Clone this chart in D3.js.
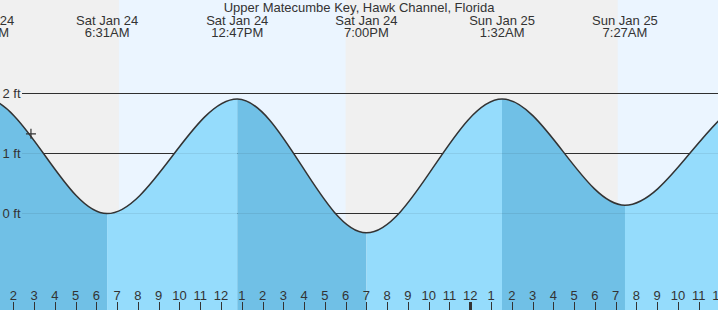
<!DOCTYPE html>
<html>
<head>
<meta charset="utf-8">
<script src="https://cdn.jsdelivr.net/npm/d3@7"></script>
<style>
html,body{margin:0;padding:0;background:#f0f0f0;}
svg{display:block;font-family:"Liberation Sans",Arial,sans-serif;}
</style>
</head>
<body>
<svg id="chart" width="718" height="310"></svg>
<script>
const title = "Upper Matecumbe Key, Hawk Channel, Florida";
// tide extremes (first and last are just off the visible window)
const tideTimes = ["2026-01-23T18:20","2026-01-24T00:33","2026-01-24T06:31","2026-01-24T12:47","2026-01-24T19:00","2026-01-25T01:32","2026-01-25T07:27","2026-01-25T13:48","2026-01-25T19:55"];
const tideHeights = [-0.30, 1.92, -0.01, 1.90, -0.33, 1.90, 0.13, 1.90, -0.30];
const dayStarts = ["2026-01-24T07:05","2026-01-25T07:06"];
const dayEnds = ["2026-01-24T18:00","2026-01-25T18:01"];
const ftTicks = [0, 1, 2];
const ftLabels = ["0 ft", "1 ft", "2 ft"];
const nowTime = "2026-01-24T02:51";
const nowHeight = 1.32;

const W = 718, H = 310;
const parse = d3.timeParse("%Y-%m-%dT%H:%M");
const svg = d3.select("#chart");

const x = d3.scaleTime()
  .domain([parse("2026-01-24T02:00"), parse("2026-01-25T11:00")])
  .range([13.3, 698.7]);
const y = d3.scaleLinear().domain([0, 2]).range([213, 93]);

const tides = tideTimes.map((t, i) => ({t: parse(t), h: tideHeights[i]}));

// backgrounds
svg.append("rect").attr("width", W).attr("height", H).attr("fill", "#f0f0f0");
dayStarts.forEach((s, i) => {
  const x0 = x(parse(s)), x1 = Math.min(W, x(parse(dayEnds[i])));
  svg.append("rect").attr("x", x0).attr("y", 0).attr("width", x1 - x0).attr("height", H).attr("fill", "#ebf5ff");
});

// grid lines (behind)
ftTicks.forEach(v => {
  svg.append("line").attr("x1", 22).attr("x2", W).attr("y1", y(v)).attr("y2", y(v))
    .attr("stroke", "#333").attr("stroke-width", 1).attr("shape-rendering", "crispEdges");
});

// area fills with alternating colours per segment
const area = d3.area().x(d => x(d.t)).y0(H).y1(d => y(d.h)).curve(d3.curveMonotoneX);
const line = d3.line().x(d => x(d.t)).y(d => y(d.h)).curve(d3.curveMonotoneX);
const defs = svg.append("defs");
for (let i = 0; i < tides.length - 1; i++) {
  const x0 = x(tides[i].t), x1 = x(tides[i + 1].t);
  defs.append("clipPath").attr("id", "seg" + i)
    .append("rect").attr("x", x0).attr("y", 0).attr("width", x1 - x0).attr("height", H);
  const falling = tides[i + 1].h < tides[i].h;
  svg.append("path").datum(tides).attr("d", area)
    .attr("clip-path", "url(#seg" + i + ")")
    .attr("fill", falling ? "#70c0e6" : "#95dcfc");
}

// faint grid lines over the water
ftTicks.forEach(v => {
  svg.append("line").attr("x1", 22).attr("x2", W).attr("y1", y(v)).attr("y2", y(v))
    .attr("stroke", "rgba(0,0,0,0.07)").attr("stroke-width", 1).attr("shape-rendering", "crispEdges");
});

// curve
svg.append("path").datum(tides).attr("d", line)
  .attr("fill", "none").attr("stroke", "#333").attr("stroke-width", 1.5);

// ft labels
ftTicks.forEach((v, i) => {
  svg.append("text").attr("x", 2.5).attr("y", y(v) + 4.5).attr("font-size", 13)
    .attr("fill", "#333").text(ftLabels[i]);
});

// title
svg.append("text").attr("x", 359).attr("y", 12).attr("text-anchor", "middle")
  .attr("font-size", 13).attr("fill", "#333").text(title);

// event labels
const fDate = d3.timeFormat("%a %b %-d");
const fTime = d3.timeFormat("%-I:%M%p");
tides.forEach(d => {
  const xx = x(d.t);
  if (xx > W || xx < -40) return;
  svg.append("text").attr("x", xx).attr("y", 24.5).attr("text-anchor", "middle")
    .attr("font-size", 13).attr("fill", "#333").text(fDate(d.t));
  svg.append("text").attr("x", xx).attr("y", 37).attr("text-anchor", "middle")
    .attr("font-size", 13).attr("fill", "#333").text(fTime(d.t));
});

// hour axis
const hours = d3.timeHour.range(parse("2026-01-24T02:00"), parse("2026-01-25T13:00"));
const hg = svg.append("g");
hours.forEach(hd => {
  const xx = Math.round(x(hd));
  const mid = hd.getHours() === 0;
  hg.append("line").attr("x1", xx + 0.5).attr("x2", xx + 0.5).attr("y1", 302).attr("y2", H)
    .attr("stroke", "#333").attr("stroke-width", mid ? 3 : 1);
  hg.append("text").attr("x", x(hd)).attr("y", 300).attr("text-anchor", "middle")
    .attr("font-size", 13).attr("fill", "#333").text(d3.timeFormat("%-I")(hd));
});

// current time marker
const mx = x(parse(nowTime)), my = y(nowHeight);
svg.append("path").attr("d", `M${mx - 5},${my}H${mx + 5}M${mx},${my - 5}V${my + 5}`)
  .attr("stroke", "#333").attr("stroke-width", 1.2).attr("fill", "none");
</script>
</body>
</html>
